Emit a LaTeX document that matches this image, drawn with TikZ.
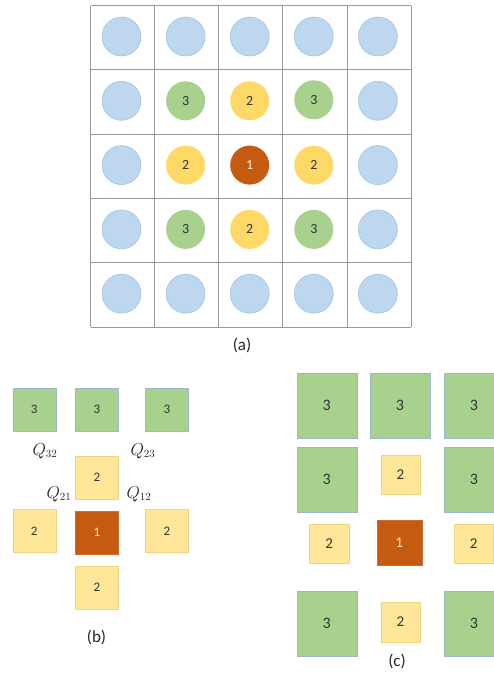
\documentclass[tikz,border=0pt]{standalone}
\usepackage{fontspec}
\setmainfont{Carlito}
\begin{document}
\begin{tikzpicture}[x=1pt,y=-1pt,
  bcirc/.style={circle,fill=cblue,draw=cblueb,line width=0.5pt,minimum size=39pt,inner sep=0pt},
  gc/.style={circle,fill=cgreen,minimum size=39pt,inner sep=0pt,font=\fontsize{14}{14}\selectfont,text=black!80},
  yc/.style={circle,fill=cyellow,minimum size=39pt,inner sep=0pt,font=\fontsize{14}{14}\selectfont,text=black!80},
  oc/.style={circle,fill=corange,minimum size=39pt,inner sep=0pt,font=\fontsize{14}{14}\selectfont,text=white!85!orange},
  gsq/.style={rectangle,fill=cgreen,draw=cgreenb,line width=0.4pt,inner sep=0pt,text=black!80},
  ysq/.style={rectangle,fill=cpale,draw=cpaleb,line width=0.4pt,inner sep=0pt,text=black!80},
  osq/.style={rectangle,fill=corange,draw=corangeb,line width=0.4pt,inner sep=0pt,text=white!85!orange},
  captxt/.style={font=\fontsize{17}{17}\selectfont,text=black!85},
  ql/.style={font=\fontsize{16}{16}\selectfont,text=black!85}
]
\definecolor{cblue}{HTML}{BDD7EE}
\definecolor{cblueb}{HTML}{9DBDE0}
\definecolor{cgreen}{HTML}{A9D18E}
\definecolor{cgreenb}{HTML}{9DB8C8}
\definecolor{cyellow}{HTML}{FFD966}
\definecolor{cpale}{HTML}{FFE699}
\definecolor{cpaleb}{HTML}{F2D27A}
\definecolor{corange}{HTML}{C55A11}
\definecolor{corangeb}{HTML}{D86A30}
\useasboundingbox (0,0) rectangle (494,673);
\clip (0,0) rectangle (494,673);
\fill[white] (0,0) rectangle (494,673);
% (a) grid
\foreach \i in {0,...,5} {
  \draw[gray!80,line width=0.7pt] ({90.5+64.1*\i},5.5) -- ({90.5+64.1*\i},327);
  \draw[gray!80,line width=0.7pt] (90.5,{5.5+64.3*\i}) -- (411,{5.5+64.3*\i});
}
\foreach \r in {0,...,4} {
  \foreach \c in {0,...,4} {
    \pgfmathtruncatemacro{\inner}{(\r>0)&&(\r<4)&&(\c>0)&&(\c<4)}
    \ifnum\inner=0
      \node[bcirc] (a\r\c) at ({121.5+64.1*\c},{36.5+64.3*\r}) {};
    \fi
  }
}
\node[gc] (a11) at (185.6,100.8) {3};
\node[yc] (a12) at (249.7,100.8) {2};
\node[gc] (a13) at (313.8,99.8) {3};
\node[yc] (a21) at (185.6,165.1) {2};
\node[oc] (a22) at (249.7,165.1) {1};
\node[yc] (a23) at (313.8,165.1) {2};
\node[gc] (a31) at (185.6,229.4) {3};
\node[yc] (a32) at (249.7,229.4) {2};
\node[gc] (a33) at (313.8,229.4) {3};
\node[captxt] (capa) at (242,345) {(a)};
% (b)
\tikzset{bsq/.style={minimum size=43pt,font=\fontsize{13}{13}\selectfont}}
\node[gsq,bsq] (b1) at (34.2,409.2) {3};
\node[gsq,bsq] (b2) at (97,409.2) {3};
\node[gsq,bsq] (b3) at (167,409.2) {3};
\node[ysq,bsq] (b4) at (97,477.4) {2};
\node[ysq,bsq] (b5) at (34.2,530.8) {2};
\node[osq,bsq] (b6) at (97,532.2) {1};
\node[ysq,bsq] (b7) at (167,530.8) {2};
\node[ysq,bsq] (b8) at (97,587.4) {2};
\node[ql] (q32) at (45,451) {$Q_{32}$};
\node[ql] (q23) at (143,451) {$Q_{23}$};
\node[ql] (q21) at (59,494) {$Q_{21}$};
\node[ql] (q12) at (139,494) {$Q_{12}$};
\node[captxt] (capb) at (96.5,637) {(b)};
% (c)
\tikzset{cg/.style={minimum width=60pt,minimum height=65pt,font=\fontsize{16}{16}\selectfont},
         cy/.style={minimum width=39.5pt,minimum height=39.5pt,font=\fontsize{15}{15}\selectfont},
         co/.style={minimum width=45pt,minimum height=45.5pt,font=\fontsize{15}{15}\selectfont}}
\node[gsq,cg] (c1) at (326.7,405.8) {3};
\node[gsq,cg] (c2) at (400,405.8) {3};
\node[gsq,cg] (c3) at (474,405.8) {3};
\node[gsq,cg] (c4) at (326.7,479.2) {3};
\node[ysq,cy] (c5) at (400.5,474.5) {2};
\node[gsq,cg] (c6) at (474,479.2) {3};
\node[ysq,cy] (c7) at (329.2,543.7) {2};
\node[osq,co] (c8) at (399.2,542.8) {1};
\node[ysq,cy] (c9) at (473.7,543.7) {2};
\node[gsq,cg] (c10) at (326.7,623.2) {3};
\node[ysq,cy] (c11) at (400.5,622) {2};
\node[gsq,cg] (c12) at (474,623.2) {3};
\node[captxt] (capc) at (397,661) {(c)};
\end{tikzpicture}
\end{document}
